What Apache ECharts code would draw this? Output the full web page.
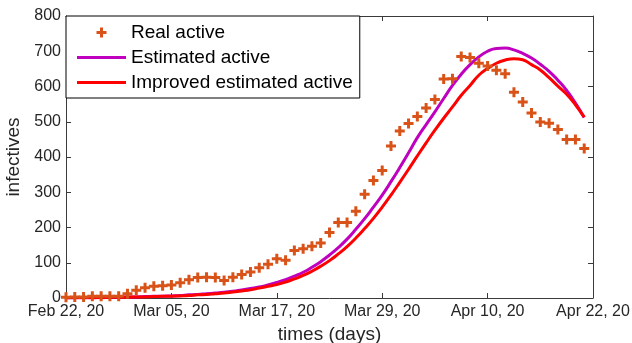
<!DOCTYPE html>
<html>
<head>
<meta charset="utf-8">
<script src="https://cdn.jsdelivr.net/npm/echarts@6/dist/echarts.min.js"></script>
<style>
  html, body { margin: 0; padding: 0; background: #fff; }
  #chart { width: 632px; height: 343px; }
</style>
</head>
<body>
<div id="chart"></div>
<script>
// Daily active cases, one value per day starting Feb 22, 2020
const realActive = [
  2, 3, 3, 5, 5, 5, 5, 12, 22, 29,
  33, 35, 37, 43, 52, 58, 59, 58, 50, 59,
  67, 74, 86, 96, 111, 107, 135, 140, 147, 156,
  186, 214, 214, 246, 294, 333, 362, 431, 474, 495,
  515, 539, 563, 621, 622, 685, 682, 666, 658, 646,
  636, 584, 556, 525, 499, 496, 478, 450, 450, 424
];
// Model output: estimated active cases
const estimatedActive = [
  0, 1, 1, 1, 2, 2, 2, 3, 3, 4,
  5, 5, 6, 7, 9, 10, 12, 14, 16, 19,
  23, 27, 31, 37, 44, 52, 62, 73, 87, 103,
  122, 143, 167, 195, 225, 258, 292, 330, 370, 412,
  455, 492, 528, 566, 603, 635, 662, 684, 700, 708,
  709, 704, 694, 681, 663, 643, 618, 589, 553, 512
];
// Model output: improved estimate
const improvedActive = [
  0, 1, 1, 1, 1, 2, 2, 2, 3, 3,
  4, 5, 5, 6, 7, 9, 10, 12, 14, 17,
  20, 23, 28, 33, 38, 45, 54, 64, 76, 90,
  106, 125, 146, 170, 197, 226, 258, 292, 328, 365,
  403, 440, 476, 510, 542, 575, 603, 632, 651, 666,
  675, 679, 676, 662, 647, 625, 601, 578, 548, 513
];
// Date labels every 12 days
const dateTicks = ['Feb 22, 20', 'Mar 05, 20', 'Mar 17, 20', 'Mar 29, 20', 'Apr 10, 20', 'Apr 22, 20'];
const tickStep = 12;
const seriesNames = ['Real active', 'Estimated active', 'Improved estimated active'];

const toPoints = arr => arr.map((v, i) => [i, v]);

const FONT = 'Liberation Sans, Arial, sans-serif';
const AXIS_COLOR = '#3a3a3a';
const TEXT_COLOR = '#262626';

const plusPath = 'path://M3.5,0h3v3.5h3.5v3h-3.5v3.5h-3v-3.5h-3.5v-3h3.5z';
const lineIcon = 'path://M0,0H49V3H0Z';

const xBase = {
  type: 'value', min: 0, max: (dateTicks.length - 1) * tickStep, interval: tickStep,
  splitLine: { show: false },
  axisLine: { show: true, onZero: false, lineStyle: { color: AXIS_COLOR, width: 1 } },
  axisTick: { show: true, inside: true, length: 5, lineStyle: { color: AXIS_COLOR } }
};
const yBase = {
  type: 'value', min: 0, max: 800, interval: 100,
  splitLine: { show: false },
  axisLine: { show: true, onZero: false, lineStyle: { color: AXIS_COLOR, width: 1 } },
  axisTick: { show: true, inside: true, length: 5, lineStyle: { color: AXIS_COLOR } }
};

const chart = echarts.init(document.getElementById('chart'), null, { renderer: 'canvas' });
chart.setOption({
  animation: false,
  backgroundColor: '#fff',
  grid: { left: 66, right: 39, top: 16, bottom: 45, containLabel: false, outerBoundsMode: 'none' },
  xAxis: [
    Object.assign({}, xBase, {
      position: 'bottom',
      name: 'times (days)', nameLocation: 'middle', nameGap: 26,
      nameTextStyle: { fontFamily: FONT, fontSize: 19, color: TEXT_COLOR },
      axisLabel: {
        show: true, margin: 6, fontFamily: FONT, fontSize: 16, color: TEXT_COLOR,
        formatter: v => dateTicks[Math.round(v / tickStep)]
      }
    }),
    Object.assign({}, xBase, { position: 'top', axisLabel: { show: false } })
  ],
  yAxis: [
    Object.assign({}, yBase, {
      position: 'left',
      name: 'infectives', nameLocation: 'middle', nameGap: 41, nameRotate: 90,
      nameTextStyle: { fontFamily: FONT, fontSize: 19, color: TEXT_COLOR },
      axisLabel: { show: true, margin: 5, fontFamily: FONT, fontSize: 16, color: TEXT_COLOR }
    }),
    Object.assign({}, yBase, { position: 'right', axisLabel: { show: false } })
  ],
  legend: {
    orient: 'vertical', left: 66, top: 16,
    backgroundColor: '#fff', borderColor: '#000', borderWidth: 1, borderRadius: 0,
    padding: [7, 7, 6, 11],
    itemWidth: 49, itemHeight: 10, itemGap: 6,
    textStyle: { fontFamily: FONT, fontSize: 19, color: '#000', lineHeight: 19 },
    data: [
      { name: seriesNames[0] },
      { name: seriesNames[1], icon: lineIcon },
      { name: seriesNames[2], icon: lineIcon }
    ]
  },
  series: [
    {
      name: seriesNames[1], type: 'line', xAxisIndex: 0, yAxisIndex: 0,
      data: toPoints(estimatedActive), smooth: true, symbol: 'none',
      lineStyle: { color: '#BF00BF', width: 3 }, itemStyle: { color: '#BF00BF' }, z: 2
    },
    {
      name: seriesNames[2], type: 'line', xAxisIndex: 0, yAxisIndex: 0,
      data: toPoints(improvedActive), smooth: true, symbol: 'none',
      lineStyle: { color: '#FF0000', width: 3 }, itemStyle: { color: '#FF0000' }, z: 3
    },
    {
      name: seriesNames[0], type: 'scatter', xAxisIndex: 0, yAxisIndex: 0,
      data: toPoints(realActive), symbol: plusPath, symbolSize: 10,
      itemStyle: { color: '#D95319', opacity: 1 }, z: 4
    }
  ]
});
</script>
</body>
</html>
